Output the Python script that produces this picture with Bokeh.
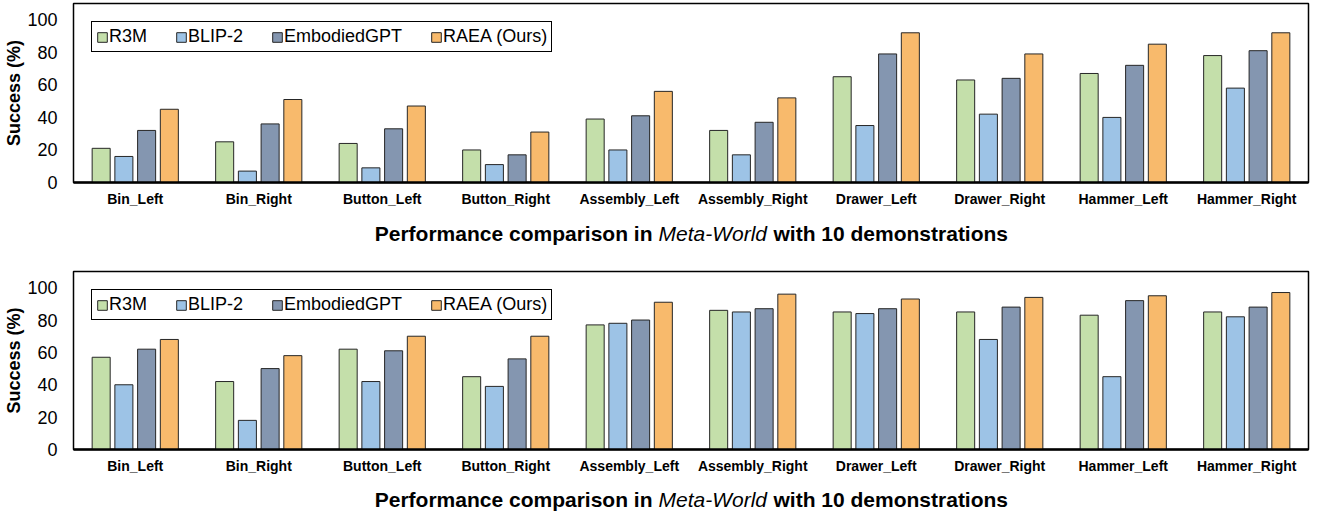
from bokeh.plotting import figure
from bokeh.models import (Range1d, FactorRange, FixedTicker, Label, Legend,
                          LegendItem, ColumnDataSource)
from bokeh.transform import dodge
from bokeh.layouts import column
from bokeh.embed import file_html
from bokeh.resources import INLINE

# ---------------- data ----------------
tasks = ["Bin_Left", "Bin_Right", "Button_Left", "Button_Right", "Assembly_Left",
         "Assembly_Right", "Drawer_Left", "Drawer_Right", "Hammer_Left", "Hammer_Right"]
methods = ["R3M", "BLIP-2", "EmbodiedGPT", "RAEA (Ours)"]
colors = ["#C4DFAA", "#9DC3E6", "#8496B0", "#F8BA6C"]

# top panel
top_r3m = [21, 25, 24, 20, 39, 32, 65, 63, 67, 78]
top_blip2 = [16, 7, 9, 11, 20, 17, 35, 42, 40, 58]
top_embodiedgpt = [32, 36, 33, 17, 41, 37, 79, 64, 72, 81]
top_raea = [45, 51, 47, 31, 56, 52, 92, 79, 85, 92]

# bottom panel
bot_r3m = [57, 42, 62, 45, 77, 86, 85, 85, 83, 85]
bot_blip2 = [40, 18, 42, 39, 78, 85, 84, 68, 45, 82]
bot_embodiedgpt = [62, 50, 61, 56, 80, 87, 87, 88, 92, 88]
bot_raea = [68, 58, 70, 70, 91, 96, 93, 94, 95, 97]

y_ticks = [0, 20, 40, 60, 80, 100]
xlabel_parts = ["Performance comparison in", "Meta-World", "with 10 demonstrations"]
ylabel = "Success (%)"

FONT = "Liberation Sans"
LEFT = 73
FRAME_W = 1235
RIGHT = 4
W = LEFT + FRAME_W + RIGHT
offsets = [-0.276, -0.092, 0.092, 0.276]
BAR_W = 0.146


def make_panel(series, top_border, frame_h):
    p = figure(x_range=FactorRange(factors=tasks), y_range=Range1d(0, 110),
               width=W, height=top_border + frame_h + 36,
               output_backend="svg", toolbar_location=None,
               min_border_left=LEFT, min_border_right=RIGHT,
               min_border_top=top_border, min_border_bottom=36)
    p.background_fill_color = "white"
    p.border_fill_color = "white"
    p.outline_line_color = "black"
    p.outline_line_width = 1.5
    p.outline_line_alpha = 1.0
    p.xgrid.visible = False
    p.ygrid.visible = False

    data = {"task": tasks}
    for i, s in enumerate(series):
        data[f"m{i}"] = s
    src = ColumnDataSource(data)

    renderers = []
    for i in range(4):
        r = p.vbar(x=dodge("task", offsets[i], range=p.x_range), top=f"m{i}",
                   width=BAR_W, source=src, fill_color=colors[i],
                   line_color="#262626", line_width=1)
        renderers.append(r)

    legend = Legend(items=[LegendItem(label=m, renderers=[r])
                           for m, r in zip(methods, renderers)],
                    orientation="horizontal", location="top_left")
    legend.margin = 18
    legend.padding = 4
    legend.spacing = 28
    legend.glyph_width = 12
    legend.glyph_height = 12
    legend.label_standoff = 1
    legend.label_text_font = FONT
    legend.label_text_font_size = "18px"
    legend.label_text_color = "black"
    legend.border_line_color = "black"
    legend.border_line_width = 1
    legend.border_line_alpha = 1.0
    legend.background_fill_color = "white"
    legend.background_fill_alpha = 1.0
    p.add_layout(legend, "center")

    # x axis
    xa = p.xaxis[0]
    xa.axis_line_color = "black"
    xa.axis_line_width = 2.5
    xa.major_tick_line_color = None
    xa.minor_tick_line_color = None
    xa.major_label_standoff = 2
    xa.major_label_text_font = FONT
    xa.major_label_text_font_size = "14px"
    xa.major_label_text_font_style = "bold"
    xa.major_label_text_color = "black"

    # y axis
    ya = p.yaxis[0]
    ya.ticker = FixedTicker(ticks=y_ticks)
    ya.axis_line_color = None
    ya.major_tick_line_color = None
    ya.minor_tick_line_color = None
    ya.major_label_standoff = 10
    ya.major_label_text_font = FONT
    ya.major_label_text_font_size = "18px"
    ya.major_label_text_color = "black"
    ya.axis_label = ylabel
    ya.axis_label_standoff = 0
    ya.axis_label_text_font = FONT
    ya.axis_label_text_font_size = "18px"
    ya.axis_label_text_font_style = "bold"
    ya.axis_label_text_color = "black"
    return p


def make_title(h, center_from_bottom):
    t = figure(x_range=Range1d(0, FRAME_W), y_range=Range1d(0, h),
               width=W, height=h, output_backend="svg", toolbar_location=None,
               x_axis_type=None, y_axis_type=None,
               min_border_left=LEFT, min_border_right=RIGHT,
               min_border_top=0, min_border_bottom=0)
    t.outline_line_color = None
    t.background_fill_color = "white"
    t.border_fill_color = "white"
    t.xgrid.visible = False
    t.ygrid.visible = False
    common = dict(y=center_from_bottom, x_units="screen", y_units="screen",
                  text_baseline="middle", text_font=FONT,
                  text_font_size="21px", text_color="black")
    t.add_layout(Label(x=579, text=xlabel_parts[0], text_align="right",
                       text_font_style="bold", **common))
    t.add_layout(Label(x=585, text=xlabel_parts[1], text_align="left",
                       text_font_style="italic", **common))
    t.add_layout(Label(x=700, text=xlabel_parts[2], text_align="left",
                       text_font_style="bold", **common))
    return t


p1 = make_panel([top_r3m, top_blip2, top_embodiedgpt, top_raea], 3, 179)
t1 = make_title(52, 37)
p2 = make_panel([bot_r3m, bot_blip2, bot_embodiedgpt, bot_raea], 1, 178)
t2 = make_title(26, 12)

layout = column(p1, t1, p2, t2, spacing=0)
open("out.html", "w").write(file_html(layout, INLINE))
